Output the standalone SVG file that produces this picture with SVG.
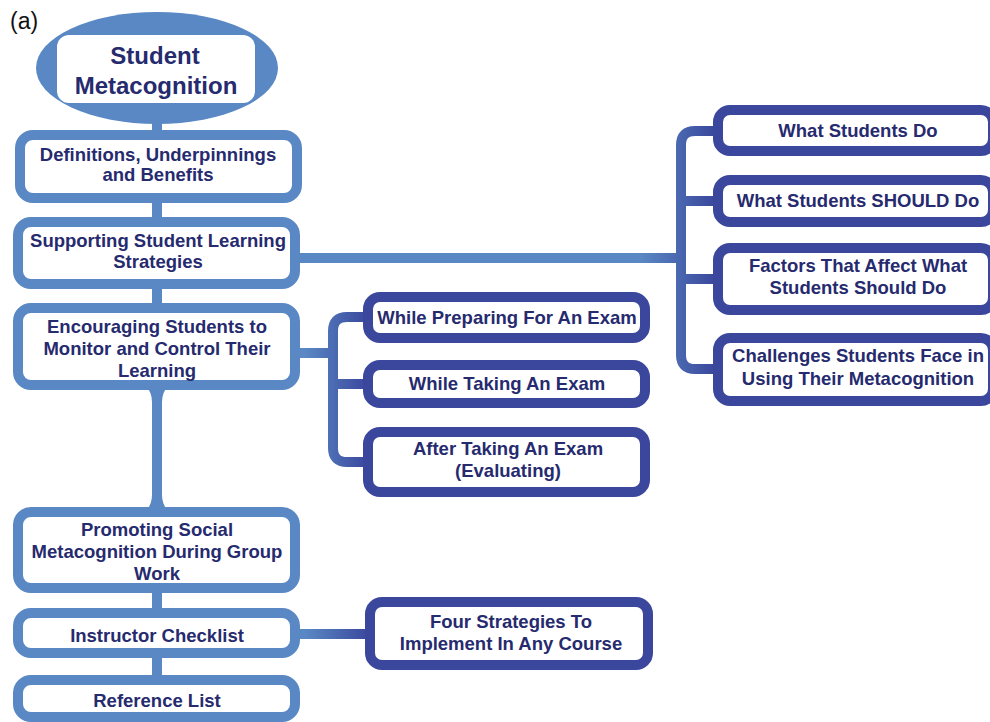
<svg xmlns="http://www.w3.org/2000/svg" width="990" height="722" viewBox="0 0 990 722">
<style>
.lb{fill:#fff;stroke:#5a88c4;stroke-width:10}
.db{fill:#fff;stroke:#3a479c;stroke-width:10}
.t{font-family:"Liberation Sans",Arial,sans-serif;font-weight:bold;font-size:18.5px;fill:#262a6e;text-anchor:middle}
.c{fill:none;stroke-width:10;stroke-linecap:butt;stroke-linejoin:round}
</style>
<defs>
<linearGradient id="gR" gradientUnits="userSpaceOnUse" x1="640" y1="0" x2="716" y2="0">
<stop offset="0" stop-color="#5a88c4"/><stop offset="1" stop-color="#3a479c"/>
</linearGradient>
<linearGradient id="gM" gradientUnits="userSpaceOnUse" x1="305" y1="0" x2="368" y2="0">
<stop offset="0" stop-color="#5a88c4"/><stop offset="1" stop-color="#3a479c"/>
</linearGradient>
<linearGradient id="gF" gradientUnits="userSpaceOnUse" x1="305" y1="0" x2="370" y2="0">
<stop offset="0" stop-color="#5a88c4"/><stop offset="1" stop-color="#3a479c"/>
</linearGradient>
</defs>
<text x="10" y="29" style="font-family:'Liberation Sans',Arial,sans-serif;font-size:23px;fill:#111">(a)</text>
<g id="connectors">
<path class="c" stroke="#5a88c4" d="M157 110 V310"/>
<path fill="#5a88c4" d="M145 385 Q152 392 152 402 V495 Q152 505 145 512 H169 Q162 505 162 495 V402 Q162 392 169 385 Z"/>
<path class="c" stroke="#5a88c4" d="M157 585 V685"/>
<path class="c" stroke="url(#gR)" d="M296 258 H681"/>
<path class="c" stroke="url(#gR)" d="M716 131 H695 Q681 131 681 145 V355 Q681 369 695 369 H716 M681 201 H716 M681 279 H716"/>
<path class="c" stroke="url(#gM)" d="M296 353 H333"/>
<path class="c" stroke="url(#gM)" d="M370 317 H347 Q333 317 333 331 V448 Q333 462 347 462 H370 M333 384 H370"/>
<path class="c" stroke="url(#gF)" d="M296 634 H372"/>
</g>
<g id="root">
<ellipse cx="157" cy="68" rx="121" ry="56" fill="#5a88c4"/>
<rect x="57" y="35" width="198" height="68" rx="12" fill="#fff"/>
<text class="t" x="155" y="64" style="font-size:24px">Student</text>
<text class="t" x="156" y="94" style="font-size:24px">Metacognition</text>
</g>
<g id="definitions">
<rect class="lb" x="20" y="135" width="277" height="63" rx="13"/>
<text class="t" x="158" y="161">Definitions, Underpinnings</text>
<text class="t" x="158" y="181">and Benefits</text>
</g>
<g id="supporting">
<rect class="lb" x="18" y="222" width="277" height="62" rx="13"/>
<text class="t" x="158" y="247">Supporting Student Learning</text>
<text class="t" x="158" y="268">Strategies</text>
</g>
<g id="encouraging">
<rect class="lb" x="18" y="308" width="277" height="77" rx="13"/>
<text class="t" x="157" y="333">Encouraging Students to</text>
<text class="t" x="157" y="355">Monitor and Control Their</text>
<text class="t" x="157" y="377">Learning</text>
</g>
<g id="promoting">
<rect class="lb" x="18" y="512" width="277" height="76" rx="13"/>
<text class="t" x="157" y="536">Promoting Social</text>
<text class="t" x="157" y="558">Metacognition During Group</text>
<text class="t" x="157" y="580">Work</text>
</g>
<g id="checklist">
<rect class="lb" x="18" y="613" width="277" height="40" rx="13"/>
<text class="t" x="157" y="642">Instructor Checklist</text>
</g>
<g id="references">
<rect class="lb" x="18" y="680" width="277" height="37" rx="13"/>
<text class="t" x="157" y="707">Reference List</text>
</g>
<g id="students-do">
<rect class="db" x="718" y="110" width="275" height="41" rx="12"/>
<text class="t" x="858" y="137">What Students Do</text>
</g>
<g id="students-should">
<rect class="db" x="718" y="180" width="275" height="42" rx="12"/>
<text class="t" x="858" y="207">What Students SHOULD Do</text>
</g>
<g id="factors">
<rect class="db" x="718" y="248" width="275" height="62" rx="12"/>
<text class="t" x="858" y="272">Factors That Affect What</text>
<text class="t" x="858" y="294">Students Should Do</text>
</g>
<g id="challenges">
<rect class="db" x="718" y="338" width="275" height="63" rx="12"/>
<text class="t" x="858" y="362">Challenges Students Face in</text>
<text class="t" x="858" y="385">Using Their Metacognition</text>
</g>
<g id="preparing">
<rect class="db" x="368" y="297" width="277" height="41" rx="12"/>
<text class="t" x="507" y="324">While Preparing For An Exam</text>
</g>
<g id="taking">
<rect class="db" x="368" y="365" width="277" height="38" rx="12"/>
<text class="t" x="507" y="390">While Taking An Exam</text>
</g>
<g id="after">
<rect class="db" x="368" y="432" width="277" height="60" rx="12"/>
<text class="t" x="508" y="455">After Taking An Exam</text>
<text class="t" x="508" y="477">(Evaluating)</text>
</g>
<g id="four-strategies">
<rect class="db" x="370" y="602" width="278" height="63" rx="12"/>
<text class="t" x="511" y="628">Four Strategies To</text>
<text class="t" x="511" y="650">Implement In Any Course</text>
</g>
</svg>
